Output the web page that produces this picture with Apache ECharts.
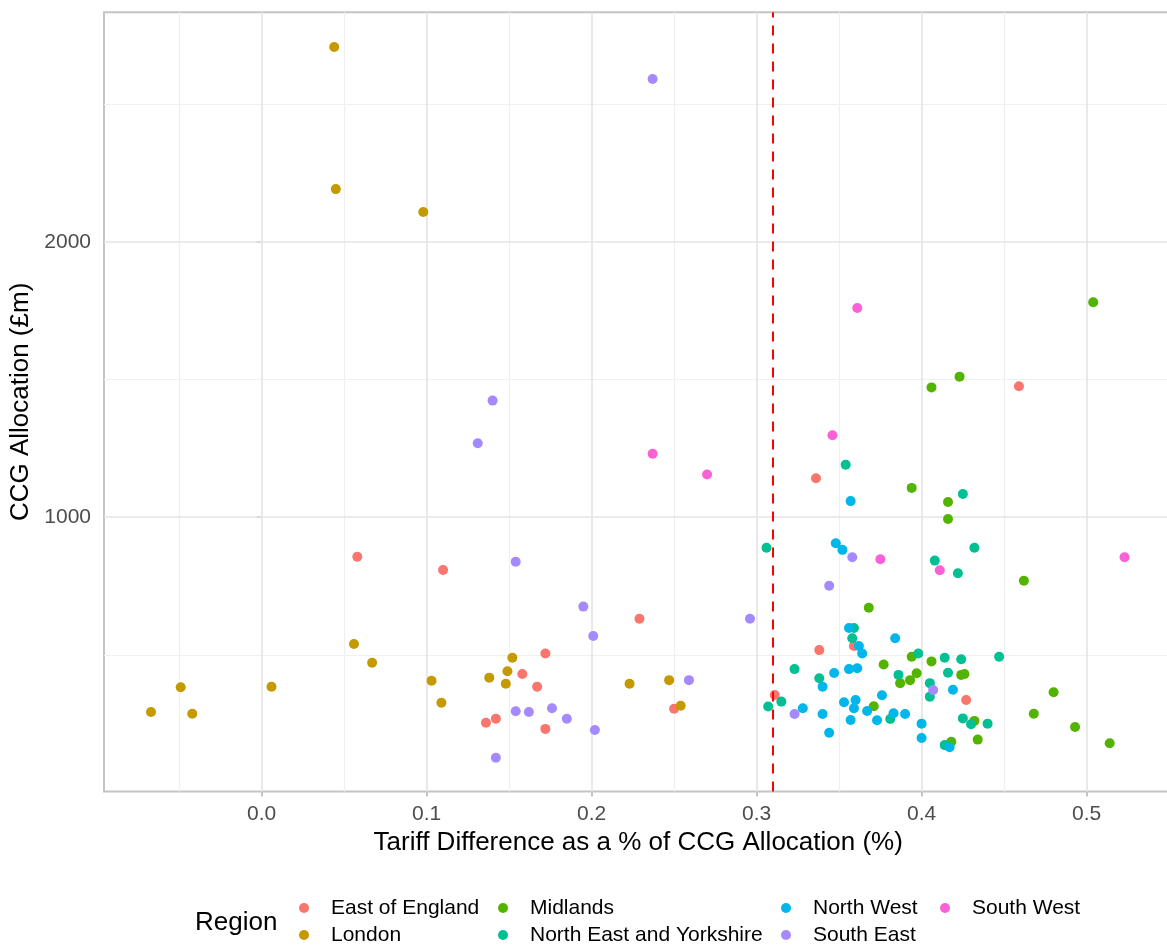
<!DOCTYPE html>
<html>
<head>
<meta charset="utf-8">
<script src="https://cdn.jsdelivr.net/npm/echarts@6/dist/echarts.min.js"></script>
<style>
  html, body { margin: 0; padding: 0; background: #ffffff; }
  #chart { width: 1167px; height: 946px; }
</style>
</head>
<body>
<div id="chart"></div>
<script>
// CCG allocations: [tariff difference as % of allocation, allocation in £m]
const eastOfEngland = [
  [0.058, 856], [0.110, 808], [0.229, 631], [0.172, 505], [0.158, 430], [0.167, 384],
  [0.250, 304], [0.311, 354], [0.136, 253], [0.142, 268], [0.172, 231], [0.336, 1141],
  [0.459, 1475], [0.338, 517], [0.359, 532], [0.427, 336]
];
const london = [
  [0.044, 2707], [0.045, 2191], [0.098, 2108], [0.056, 539], [0.067, 471], [-0.049, 382],
  [-0.067, 292], [-0.042, 286], [0.006, 384], [0.103, 406], [0.109, 326], [0.152, 489],
  [0.149, 440], [0.138, 417], [0.148, 395], [0.223, 395], [0.247, 408], [0.254, 315]
];
const midlands = [
  [0.504, 1780], [0.406, 1471], [0.423, 1510], [0.394, 1106], [0.416, 1055], [0.416, 993],
  [0.462, 769], [0.368, 671], [0.394, 493], [0.406, 476], [0.377, 465], [0.397, 433],
  [0.387, 397], [0.393, 408], [0.424, 427], [0.426, 430], [0.480, 364], [0.371, 313],
  [0.432, 260], [0.418, 184], [0.434, 192], [0.468, 286], [0.493, 238], [0.514, 179]
];
const northEastYorkshire = [
  [0.354, 1190], [0.425, 1084], [0.306, 889], [0.408, 842], [0.432, 889], [0.422, 796],
  [0.359, 597], [0.358, 560], [0.398, 505], [0.414, 489], [0.424, 484], [0.447, 493],
  [0.323, 448], [0.338, 415], [0.386, 427], [0.416, 435], [0.405, 397], [0.405, 348],
  [0.307, 312], [0.315, 330], [0.381, 267], [0.425, 269], [0.430, 248], [0.440, 250],
  [0.414, 172]
];
const northWest = [
  [0.357, 1058], [0.348, 905], [0.352, 881], [0.356, 597], [0.384, 560], [0.362, 532],
  [0.364, 505], [0.347, 434], [0.356, 448], [0.361, 451], [0.340, 384], [0.419, 373],
  [0.328, 306], [0.340, 285], [0.344, 217], [0.353, 328], [0.360, 336], [0.359, 306],
  [0.367, 296], [0.376, 353], [0.357, 263], [0.373, 262], [0.383, 288], [0.390, 285],
  [0.400, 250], [0.400, 198], [0.417, 164]
];
const southEast = [
  [0.237, 2591], [0.140, 1423], [0.131, 1268], [0.154, 838], [0.358, 854], [0.344, 751],
  [0.195, 675], [0.201, 568], [0.296, 631], [0.259, 408], [0.154, 295], [0.162, 292],
  [0.176, 306], [0.185, 268], [0.202, 227], [0.142, 126], [0.323, 285], [0.407, 372]
];
const southWest = [
  [0.361, 1759], [0.346, 1297], [0.237, 1230], [0.270, 1155], [0.375, 847], [0.411, 807],
  [0.523, 854]
];

const regionNames = [
  'East of England', 'London', 'Midlands', 'North East and Yorkshire',
  'North West', 'South East', 'South West'
];
const regionData = [eastOfEngland, london, midlands, northEastYorkshire, northWest, southEast, southWest];
const regionColors = ['#F8766D', '#C49A00', '#53B400', '#00C094', '#00B6EB', '#A58AFF', '#FB61D7'];

// axis ticks and grid lines
const xTicks = [0, 0.1, 0.2, 0.3, 0.4, 0.5];
const xMinorGrid = [-0.05, 0.05, 0.15, 0.25, 0.35, 0.45];
const yTicks = [1000, 2000];
const yMinorGrid = [500, 1500, 2500];
const xRange = [-0.0955, 0.552];
const yRange = [3.6, 2833];
const threshold = 0.31;

const FONT = '"Liberation Sans", Arial, Helvetica, sans-serif';

const series = regionNames.map((name, i) => ({
  name: name,
  type: 'scatter',
  data: regionData[i],
  symbol: 'circle',
  symbolSize: 10,
  itemStyle: { color: regionColors[i], opacity: 1 },
  emphasis: { disabled: true },
  z: 3
}));

// background grid lines and the dashed threshold line
series.unshift({
  name: 'grid',
  type: 'scatter',
  data: [],
  silent: true,
  markLine: {
    silent: true,
    z: 1,
    symbol: ['none', 'none'],
    label: { show: false },
    animation: false,
    data: [
      ...xMinorGrid.map(v => ({ xAxis: v, lineStyle: { color: '#f0f0f0', width: 1.2, type: 'solid' } })),
      ...yMinorGrid.map(v => ({ yAxis: v, lineStyle: { color: '#f0f0f0', width: 1.2, type: 'solid' } })),
      ...xTicks.map(v => ({ xAxis: v, lineStyle: { color: '#e4e4e4', width: 1.6, type: 'solid' } })),
      ...yTicks.map(v => ({ yAxis: v, lineStyle: { color: '#e4e4e4', width: 1.6, type: 'solid' } }))
    ]
  }
});
series.push({
  name: 'threshold',
  type: 'scatter',
  data: [],
  silent: true,
  markLine: {
    silent: true,
    z: 6,
    symbol: ['none', 'none'],
    label: { show: false },
    animation: false,
    lineStyle: { color: '#FF0000', width: 2, type: [10, 8] },
    data: [{ xAxis: threshold }]
  }
});

function legendColumn(left, names) {
  return {
    orient: 'vertical',
    left: left,
    top: 897.5,
    padding: 0,
    itemGap: 6,
    itemWidth: 44,
    itemHeight: 10,
    selectedMode: false,
    icon: 'circle',
    data: names,
    textStyle: { fontFamily: FONT, fontSize: 21, lineHeight: 21, color: '#000000' }
  };
}

const option = {
  animation: false,
  backgroundColor: '#ffffff',
  textStyle: { fontFamily: FONT },
  title: {
    text: 'Region',
    left: 195,
    top: 909,
    padding: 0,
    textStyle: { fontFamily: FONT, fontSize: 26, fontWeight: 'normal', color: '#000000', lineHeight: 28 }
  },
  legend: [
    legendColumn(299, [regionNames[0], regionNames[1]]),
    legendColumn(498, [regionNames[2], regionNames[3]]),
    legendColumn(781, [regionNames[4], regionNames[5]]),
    legendColumn(940, [regionNames[6]])
  ],
  grid: {
    left: 104,
    top: 12.3,
    width: 1068.4,
    height: 779.2,
    show: true,
    borderColor: '#c4c4c4',
    borderWidth: 2,
    backgroundColor: 'transparent',
    containLabel: false,
    outerBoundsMode: 'none'
  },
  xAxis: {
    type: 'value',
    min: xRange[0],
    max: xRange[1],
    name: 'Tariff Difference as a % of CCG Allocation (%)',
    nameLocation: 'middle',
    nameGap: 38,
    nameTextStyle: { fontFamily: FONT, fontSize: 26, color: '#000000', lineHeight: 26 },
    axisLine: { show: false },
    axisTick: { show: true, length: 5, customValues: xTicks, lineStyle: { color: '#c4c4c4', width: 2 } },
    axisLabel: {
      customValues: xTicks,
      margin: 12,
      fontFamily: FONT,
      fontSize: 21,
      lineHeight: 21,
      color: '#4d4d4d',
      formatter: v => v.toFixed(1)
    },
    splitLine: { show: false },
    minorSplitLine: { show: false }
  },
  yAxis: {
    type: 'value',
    min: yRange[0],
    max: yRange[1],
    name: 'CCG Allocation (£m)',
    nameLocation: 'middle',
    nameGap: 62,
    nameTextStyle: { fontFamily: FONT, fontSize: 26, color: '#000000', lineHeight: 26 },
    axisLine: { show: false },
    axisTick: { show: true, length: 5, customValues: yTicks, lineStyle: { color: '#c4c4c4', width: 2 } },
    axisLabel: {
      customValues: yTicks,
      margin: 13,
      fontFamily: FONT,
      fontSize: 21,
      color: '#4d4d4d',
      formatter: v => String(v)
    },
    splitLine: { show: false },
    minorSplitLine: { show: false }
  },
  series: series
};

const chart = echarts.init(document.getElementById('chart'), null, { renderer: 'canvas' });
chart.setOption(option);
</script>
</body>
</html>
